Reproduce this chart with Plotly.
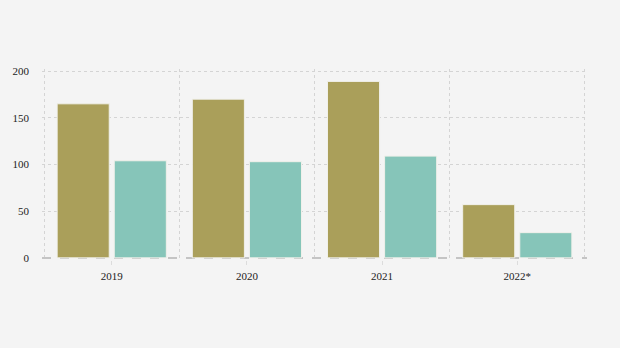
import plotly.graph_objects as go

categories = ["2019", "2020", "2021", "2022*"]
series_a = [165, 170, 189, 57]
series_b = [104, 103, 109, 27]
y_ticks = [0, 50, 100, 150, 200]

x_pos = list(range(len(categories)))
bounds = [i - 0.5 for i in range(len(categories) + 1)]
xpad = 0.016
ypad = 2.3
xr = [bounds[0] - xpad, bounds[-1] + xpad]
yr = [-ypad, 200 + ypad]

fig = go.Figure()
fig.add_trace(go.Bar(x=x_pos, y=series_a, marker=dict(color="#aa9f5a", line=dict(color="#f0f0ea", width=1)), showlegend=False))
fig.add_trace(go.Bar(x=x_pos, y=series_b, marker=dict(color="#86c5b9", line=dict(color="#f0f0ea", width=1)), showlegend=False))
fig.add_trace(go.Scatter(x=xr, y=[0, 0], xaxis="x2", yaxis="y2", mode="markers",
                         marker=dict(opacity=0), showlegend=False, hoverinfo="skip"))

grid_col = "#d4d4d4"
fig.update_layout(
    width=620, height=348,
    margin=dict(l=42, r=33, t=69, b=88),
    paper_bgcolor="#f4f4f4", plot_bgcolor="#f4f4f4",
    barmode="group", bargap=0.155, bargroupgap=0.088,
    font=dict(family="Liberation Serif, Times New Roman, serif", size=11, color="#222"),
    xaxis=dict(range=xr, tickvals=x_pos, ticktext=categories,
               showgrid=False, zeroline=False, ticks="outside", ticklen=4, tickcolor="#dcdcdc",
               showline=False, ticklabelstandoff=2),
    xaxis2=dict(overlaying="x", range=xr, tickvals=bounds,
                showticklabels=False, showgrid=True, gridcolor=grid_col, griddash="dot",
                gridwidth=1, zeroline=False, side="bottom"),
    yaxis=dict(range=yr, tickvals=y_ticks[1:], showgrid=True, gridcolor=grid_col,
               griddash="dot", zeroline=False, ticklabelstandoff=12),
    yaxis2=dict(overlaying="y", range=yr, tickvals=[0], ticktext=["0"], showticklabels=True,
                showgrid=True, gridcolor="#c4c4c4", griddash="dash", gridwidth=1.5,
                zeroline=False, ticklabelstandoff=12, side="left", layer="above traces"),
)
fig.write_html("out.html")
